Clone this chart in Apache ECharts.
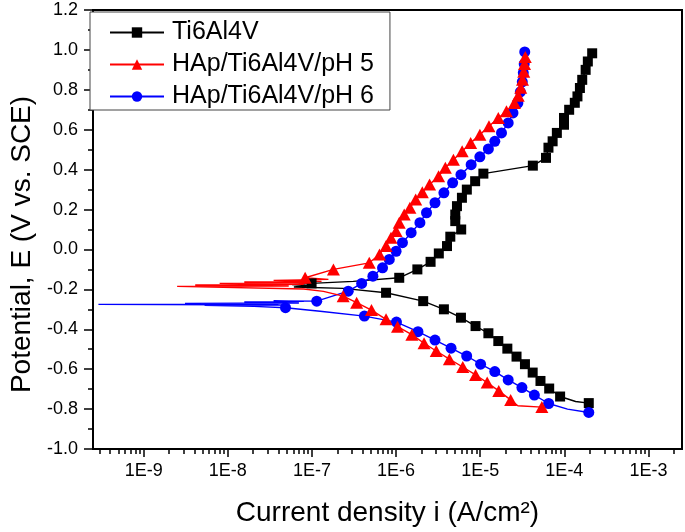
<!DOCTYPE html>
<html><head><meta charset="utf-8">
<script src="https://cdn.jsdelivr.net/npm/echarts@6/dist/echarts.min.js"></script>
<style>html,body{margin:0;padding:0;background:#fff}#c{width:685px;height:532px}</style>
</head><body><div id="c"></div>
<script>
// ---- data: [current density (A/cm2), potential (V vs SCE)] in scan order ----
// Segments alternate: marked points, then unmarked line points, then marked ...
const tiStart = [[1.95e-4,-0.770]];
const tiBend = [[1.36e-4,-0.762]];
const tiCathodic = [[8.9e-5,-0.737],[6.6e-5,-0.697],[5.2e-5,-0.659],[4.2e-5,-0.617],[3.4e-5,-0.575],[2.7e-5,-0.537],[2.1e-5,-0.497],[1.64e-5,-0.459],[1.25e-5,-0.420],[8.8e-6,-0.384],[5.9e-6,-0.342],[3.7e-6,-0.300],[2.1e-6,-0.259],[7.6e-7,-0.217]];
const tiTransition = [[2.35e-7,-0.195],[6.1e-8,-0.188],[9.1e-8,-0.182],[5.8e-8,-0.176]];
const tiEcorr = [[9.9e-8,-0.170]];
const tiBow = [[3.1e-7,-0.160]];
const tiAnodic = [[1.09e-6,-0.142],[1.79e-6,-0.100],[2.57e-6,-0.062],[3.22e-6,-0.020],[4.03e-6,0.017],[4.41e-6,0.064],[5.94e-6,0.100],[5.05e-6,0.142],[5.05e-6,0.175],[5.29e-6,0.217],[6.06e-6,0.259],[6.93e-6,0.300],[8.7e-6,0.342],[1.09e-5,0.380],[4.22e-5,0.420],[6.05e-5,0.459],[6.47e-5,0.510],[7.25e-5,0.542],[8.14e-5,0.584],[9.9e-5,0.625],[9.9e-5,0.659],[1.14e-4,0.700],[1.33e-4,0.735],[1.43e-4,0.767],[1.53e-4,0.809],[1.63e-4,0.850],[1.79e-4,0.900],[1.90e-4,0.942],[2.14e-4,0.983]];

const ph5Start = [[5.4e-5,-0.790]];
const ph5Bend = [[2.8e-5,-0.783]];
const ph5Cathodic = [[2.3e-5,-0.754],[1.66e-5,-0.709],[1.21e-5,-0.667],[8.8e-6,-0.629],[6.2e-6,-0.589],[4.3e-6,-0.550],[3.0e-6,-0.509],[2.15e-6,-0.470],[1.54e-6,-0.427],[1.04e-6,-0.387],[7.6e-7,-0.350],[5.1e-7,-0.304],[3.4e-7,-0.267],[2.35e-7,-0.234]];
const ph5Transition = [[1.37e-7,-0.210],[8.0e-8,-0.198],[2.5e-9,-0.185],[5.3e-8,-0.183],[4.1e-9,-0.178],[8.0e-8,-0.175],[8.0e-9,-0.170],[1.04e-7,-0.168],[1.57e-8,-0.163],[1.3e-7,-0.160],[3.5e-8,-0.155],[1.57e-7,-0.150]];
const ph5Anodic = [[8.3e-8,-0.142],[1.8e-7,-0.100],[4.8e-7,-0.067],[6.35e-7,-0.025],[7.6e-7,0.017],[8.7e-7,0.059],[1.0e-6,0.092],[1.09e-6,0.134],[1.25e-6,0.175],[1.46e-6,0.209],[1.71e-6,0.250],[2.05e-6,0.287],[2.5e-6,0.325],[3.2e-6,0.367],[3.85e-6,0.409],[4.8e-6,0.450],[6.1e-6,0.492],[7.7e-6,0.534],[9.9e-6,0.575],[1.27e-5,0.617],[1.64e-5,0.659],[2.05e-5,0.692],[2.55e-5,0.734],[2.83e-5,0.770],[3.03e-5,0.810],[3.18e-5,0.850],[3.29e-5,0.890],[3.36e-5,0.930],[3.43e-5,0.965]];

const ph6Start = [[1.95e-4,-0.817]];
const ph6Bend = [[1.09e-4,-0.800]];
const ph6Cathodic = [[6.5e-5,-0.772],[4.4e-5,-0.730],[3.13e-5,-0.692],[2.15e-5,-0.654],[1.49e-5,-0.612],[1.01e-5,-0.575],[6.9e-6,-0.534],[4.5e-6,-0.495],[2.9e-6,-0.454],[1.82e-6,-0.412],[1.01e-6,-0.364],[4.2e-7,-0.334]];
const ph6Bow = [[1.25e-7,-0.310]];
const ph6Ecorr = [[4.85e-8,-0.292]];
const ph6Transition = [[2.05e-8,-0.285],[5.3e-9,-0.280],[5.3e-8,-0.278],[2.9e-10,-0.275],[4.0e-8,-0.273],[3.1e-9,-0.270],[7.0e-8,-0.268],[1.57e-8,-0.263],[8.0e-8,-0.260],[3.5e-8,-0.258]];
const ph6Anodic = [[1.14e-7,-0.259],[2.7e-7,-0.209],[3.9e-7,-0.170],[5.3e-7,-0.134],[6.9e-7,-0.092],[8.3e-7,-0.050],[1.0e-6,-0.009],[1.19e-6,0.034],[1.51e-6,0.084],[1.92e-6,0.134],[2.3e-6,0.184],[2.9e-6,0.234],[3.7e-6,0.284],[4.7e-6,0.334],[5.9e-6,0.375],[7.8e-6,0.425],[9.9e-6,0.464],[1.25e-5,0.504],[1.49e-5,0.542],[1.79e-5,0.584],[2.15e-5,0.634],[2.45e-5,0.684],[2.8e-5,0.734],[3.0e-5,0.790],[3.16e-5,0.840],[3.25e-5,0.885],[3.33e-5,0.930],[3.38e-5,0.990]];

const seriesNames = ['Ti6Al4V','HAp/Ti6Al4V/pH 5','HAp/Ti6Al4V/pH 6'];
const xMajorTicks = [1e-9,1e-8,1e-7,1e-6,1e-5,1e-4,1e-3];
const xMinorTicks = [3e-10,4e-10,5e-10,6e-10,7e-10,8e-10,9e-10,
  2e-9,3e-9,4e-9,5e-9,6e-9,7e-9,8e-9,9e-9,
  2e-8,3e-8,4e-8,5e-8,6e-8,7e-8,8e-8,9e-8,
  2e-7,3e-7,4e-7,5e-7,6e-7,7e-7,8e-7,9e-7,
  2e-6,3e-6,4e-6,5e-6,6e-6,7e-6,8e-6,9e-6,
  2e-5,3e-5,4e-5,5e-5,6e-5,7e-5,8e-5,9e-5,
  2e-4,3e-4,4e-4,5e-4,6e-4,7e-4,8e-4,9e-4,2e-3];
const xMin = 2.5e-10, xMax = 2.5e-3;

// even-indexed segments carry markers, odd-indexed ones are plain line points
function build(segments) {
  let out = [];
  segments.forEach((seg, k) => {
    out = out.concat(seg.map(p => (k % 2 === 0 ? {value: p} : {value: p, symbol: 'none'})));
  });
  return out;
}

const chart = echarts.init(document.getElementById('c'), null, {renderer: 'canvas'});
const FONT = 'Liberation Sans, Arial, sans-serif';
chart.setOption({
  animation: false,
  backgroundColor: '#fff',
  textStyle: {fontFamily: FONT},
  grid: {left: 87, right: 3, top: 10, bottom: 82, show: true, borderColor: '#000', borderWidth: 2},
  legend: {
    orient: 'vertical', left: 90, top: 12, padding: [8, 16, 1, 19],
    itemWidth: 54, itemHeight: 13, itemGap: 7,
    borderColor: '#444', borderWidth: 1, backgroundColor: '#fff',
    textStyle: {fontSize: 25, color: '#000', lineHeight: 25, fontFamily: FONT, padding: [0, 0, 0, 3]},
    data: seriesNames
  },
  xAxis: [{
    type: 'log', logBase: 10, min: xMin, max: xMax,
    name: 'Current density i (A/cm²)', nameLocation: 'middle', nameGap: 50,
    nameTextStyle: {fontSize: 28, color: '#000', fontFamily: FONT},
    axisLine: {show: true, onZero: false, lineStyle: {color: '#000', width: 2}},
    axisTick: {show: true, customValues: xMajorTicks, length: 8, lineStyle: {color: '#000', width: 1.5}},
    minorTick: {show: false},
    axisLabel: {customValues: xMajorTicks, fontSize: 18, color: '#000', margin: 13, fontFamily: FONT,
      formatter: v => '1E' + Math.round(Math.log10(v))},
    splitLine: {show: false}
  }, {
    type: 'log', logBase: 10, min: xMin, max: xMax, position: 'bottom',
    axisLine: {show: false, onZero: false},
    axisTick: {show: true, customValues: xMinorTicks, length: 5, lineStyle: {color: '#000', width: 1.5}},
    axisLabel: {show: false},
    splitLine: {show: false}
  }],
  yAxis: {
    type: 'value', min: -1.0, max: 1.2, interval: 0.2,
    name: 'Potential, E (V vs. SCE)', nameLocation: 'middle', nameGap: 57, nameRotate: 90,
    nameTextStyle: {fontSize: 28, color: '#000', fontFamily: FONT, padding: [0, 30, 0, 0]},
    axisLine: {show: true, onZero: false, lineStyle: {color: '#000', width: 2}},
    axisTick: {show: true, length: 9, lineStyle: {color: '#000', width: 1.5}},
    minorTick: {show: true, splitNumber: 2, length: 5, lineStyle: {color: '#000', width: 1.5}},
    axisLabel: {fontSize: 18, color: '#000', margin: 15, fontFamily: FONT, formatter: v => v.toFixed(1)},
    splitLine: {show: false}
  },
  series: [{
    name: seriesNames[0], type: 'line', xAxisIndex: 0,
    data: build([tiStart, tiBend, tiCathodic, tiTransition, tiEcorr, tiBow, tiAnodic]),
    symbol: 'rect', symbolSize: 10,
    lineStyle: {color: '#000', width: 1.4}, itemStyle: {color: '#000'}
  }, {
    name: seriesNames[2], type: 'line', xAxisIndex: 0,
    data: build([ph6Start, ph6Bend, ph6Cathodic, ph6Bow, ph6Ecorr, ph6Transition, ph6Anodic]),
    symbol: 'circle', symbolSize: 11,
    lineStyle: {color: '#0000ff', width: 1.4}, itemStyle: {color: '#0000ff'}
  }, {
    name: seriesNames[1], type: 'line', xAxisIndex: 0,
    data: build([ph5Start, ph5Bend, ph5Cathodic, ph5Transition, ph5Anodic]),
    symbol: 'triangle', symbolSize: [13, 12],
    lineStyle: {color: '#ff0000', width: 1.4}, itemStyle: {color: '#ff0000'}
  }]
});
</script></body></html>
